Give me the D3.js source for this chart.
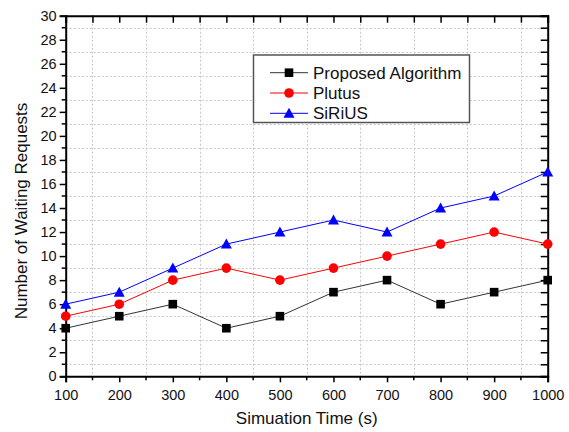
<!DOCTYPE html>
<html>
<head>
<meta charset="utf-8">
<script src="https://cdn.jsdelivr.net/npm/d3@7"></script>
<style>
  body { margin: 0; background: #fff; }
  svg { font-family: Arial, "Liberation Sans", sans-serif; }
</style>
</head>
<body>
<svg id="chart" width="569" height="432"></svg>
<script>
// Data
const times = [100, 200, 300, 400, 500, 600, 700, 800, 900, 1000];
const proposed = [4, 5, 6, 4, 5, 7, 8, 6, 7, 8];
const plutus = [5, 6, 8, 9, 8, 9, 10, 11, 12, 11];
const sirius = [6, 7, 9, 11, 12, 13, 12, 14, 15, 17];
const seriesNames = ["Proposed Algorithm", "Plutus", "SiRiUS"];

const series = [
  { name: seriesNames[0], values: proposed, color: "#000", line: "#333", marker: "square" },
  { name: seriesNames[1], values: plutus, color: "#ff0000", line: "#ff0000", marker: "circle" },
  { name: seriesNames[2], values: sirius, color: "#0000ff", line: "#0000ff", marker: "triangle" },
];

const margin = { top: 15.7, right: 21.3, bottom: 55.7, left: 65.7 };
const W = 569, H = 432;
const svg = d3.select("#chart");

const x = d3.scaleLinear().domain([100, 1000]).range([margin.left, W - margin.right]);
const y = d3.scaleLinear().domain([0, 30]).range([H - margin.bottom, margin.top]);

const majorX = d3.range(100, 1001, 100);
const minorX = d3.range(150, 1000, 100);
const majorY = d3.range(0, 31, 2);
const minorY = d3.range(1, 30, 2);

// Grid (dotted, at minor positions)
const grid = svg.append("g").attr("class", "grid")
  .attr("stroke", "#c8c8c8").attr("stroke-width", 1).attr("stroke-dasharray", "2,2");
grid.selectAll(".gx").data(minorX).join("line")
  .attr("x1", d => Math.round(x(d)) + 0.5).attr("x2", d => Math.round(x(d)) + 0.5)
  .attr("y1", y(30)).attr("y2", y(0));
grid.selectAll(".gy").data(minorY).join("line")
  .attr("x1", x(100)).attr("x2", x(1000))
  .attr("y1", d => Math.round(y(d)) + 0.5).attr("y2", d => Math.round(y(d)) + 0.5);

// Axes
const xBottom = svg.append("g").attr("transform", `translate(0,${y(0)})`)
  .call(d3.axisBottom(x).tickValues(majorX).tickFormat(d3.format("d")).tickSize(6).tickPadding(6));
xBottom.append("g").selectAll("line").data(minorX).join("line")
  .attr("x1", d => x(d)).attr("x2", d => x(d)).attr("y1", 0).attr("y2", 4)
  .attr("stroke", "#000").attr("stroke-width", 1.5);

const yLeft = svg.append("g").attr("transform", `translate(${x(100)},0)`)
  .call(d3.axisLeft(y).tickValues(majorY).tickSize(6).tickPadding(3));
yLeft.append("g").selectAll("line").data(minorY).join("line")
  .attr("y1", d => y(d)).attr("y2", d => y(d)).attr("x1", 0).attr("x2", -4)
  .attr("stroke", "#000").attr("stroke-width", 1.5);

const xTop = svg.append("g").attr("transform", `translate(0,${y(30)})`)
  .call(d3.axisTop(x).tickValues(majorX.concat(minorX)).tickSize(-7).tickFormat(""));
const yRight = svg.append("g").attr("transform", `translate(${x(1000)},0)`)
  .call(d3.axisRight(y).tickValues(majorY.concat(minorY)).tickSize(-7).tickFormat(""));

[xBottom, yLeft, xTop, yRight].forEach(g => {
  g.select(".domain").attr("stroke", "#000").attr("stroke-width", 2);
  g.selectAll(".tick line").attr("stroke", "#000").attr("stroke-width", 1.5);
  g.selectAll("text").attr("font-size", 14.5).attr("fill", "#111")
    .attr("font-family", "Arial, 'Liberation Sans', sans-serif");
});
xBottom.selectAll(".tick text").attr("dy", "0.8em");

// Axis titles
svg.append("text")
  .attr("x", (x(100) + x(1000)) / 2).attr("y", 424)
  .attr("text-anchor", "middle").attr("font-size", 17).attr("fill", "#111")
  .text("Simuation Time (s)");
svg.append("text")
  .attr("transform", `translate(27,211) rotate(-90)`)
  .attr("text-anchor", "middle").attr("font-size", 17).attr("fill", "#111")
  .text("Number of Waiting Requests");

// Markers
function drawMarker(g, type, color, cx, cy) {
  if (type === "square") {
    g.append("rect").attr("x", cx - 4.3).attr("y", cy - 4.3)
      .attr("width", 8.6).attr("height", 8.6).attr("fill", color);
  } else if (type === "circle") {
    g.append("circle").attr("cx", cx).attr("cy", cy).attr("r", 4.8).attr("fill", color);
  } else {
    g.append("path").attr("d", `M${cx},${cy - 5.5}L${cx + 5.5},${cy + 4.5}L${cx - 5.5},${cy + 4.5}Z`)
      .attr("fill", color);
  }
}

// Lines
const line = d3.line().x((d, i) => x(times[i])).y(d => y(d));
series.forEach(s => {
  const g = svg.append("g");
  g.append("path").datum(s.values).attr("d", line)
    .attr("fill", "none").attr("stroke", s.line).attr("stroke-width", 1);
  s.values.forEach((v, i) => drawMarker(g, s.marker, s.color, x(times[i]), y(v)));
});

// Legend
const legend = svg.append("g");
legend.append("rect").attr("x", 253.5).attr("y", 55).attr("width", 216).attr("height", 67.5)
  .attr("fill", "#fff").attr("stroke", "#555").attr("stroke-width", 1.5);
series.forEach((s, i) => {
  const ly = 72.7 + i * 20.3;
  legend.append("line").attr("x1", 270).attr("x2", 308).attr("y1", ly).attr("y2", ly)
    .attr("stroke", s.line).attr("stroke-width", 1);
  drawMarker(legend, s.marker, s.color, 289, ly);
  legend.append("text").attr("x", 313).attr("y", ly).attr("dy", "0.36em")
    .attr("font-size", 17).attr("fill", "#111").text(s.name);
});
</script>
</body>
</html>
